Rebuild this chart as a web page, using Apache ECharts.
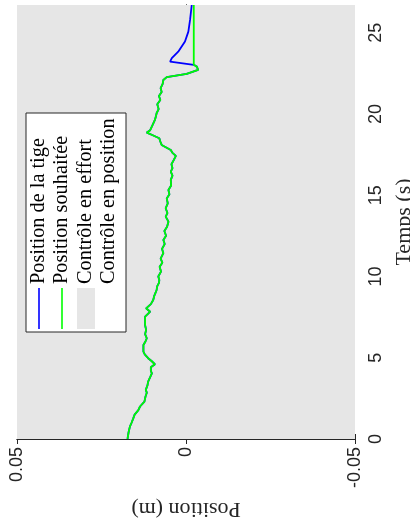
<!DOCTYPE html>
<html>
<head>
<meta charset="utf-8">
<script src="https://cdn.jsdelivr.net/npm/echarts@6/dist/echarts.min.js"></script>
<style>html,body{margin:0;padding:0;background:#fff;}#c{width:410px;height:526px;}</style>
</head>
<body>
<div id="c"></div>
<script>
// Time samples (s) and desired position (m) — "Position souhaitée"
const timeS = [0,0.4,0.76,1.0,1.27,1.5,1.78,2.0,2.3,2.6,2.85,3.02,3.3,3.53,3.8,4.04,4.2,4.41,4.6,4.8,4.97,5.2,5.37,5.6,5.78,6.0,6.2,6.45,6.71,7.0,7.3,7.53,7.83,8.04,8.3,8.55,8.8,9.0,9.17,9.4,9.6,9.78,10.0,10.3,10.6,10.85,11.1,11.43,11.7,12.0,12.25,12.5,12.8,13.06,13.37,13.68,13.9,14.2,14.5,14.8,15.05,15.32,15.6,15.94,16.2,16.45,16.66,16.9,17.17,17.42,17.6,17.78,18.09,18.3,18.5,18.7,18.85,19.0,19.12,19.35,19.63,19.85,20.04,20.3,20.6,20.86,21.1,21.35,21.58,21.85,22.09,22.26,22.46,22.71,22.91,23.02,26.7];
const desiredPos = [0.0173,0.0170,0.0166,0.0161,0.0156,0.0152,0.0141,0.0136,0.0123,0.0120,0.0116,0.0119,0.0114,0.0112,0.0106,0.0101,0.0104,0.0104,0.0092,0.0102,0.0112,0.0122,0.0126,0.0126,0.0126,0.0120,0.0116,0.0121,0.0118,0.0121,0.0121,0.0121,0.0106,0.0118,0.0104,0.0097,0.0094,0.0090,0.0087,0.0085,0.0080,0.0079,0.0082,0.0074,0.0078,0.0070,0.0075,0.0067,0.0071,0.0063,0.0067,0.0059,0.0064,0.0056,0.0052,0.0060,0.0055,0.0060,0.0054,0.0057,0.0049,0.0052,0.0044,0.0045,0.0040,0.0045,0.0040,0.0043,0.0036,0.0030,0.0040,0.0045,0.0072,0.0076,0.0079,0.0100,0.0116,0.0106,0.0102,0.0098,0.0092,0.0089,0.0087,0.0081,0.0085,0.0076,0.0080,0.0072,0.0075,0.0069,0.0067,0.0057,-0.0002,-0.0036,-0.0032,-0.0023,-0.0023];
// Rod position ("Position de la tige") follows desired until switchTime, then this tail
const switchTime = 23.02;
const rodTailTime = [23.22,23.43,23.83,24.45,25.06,25.78,26.7];
const rodTailPos = [0.0047,0.0042,0.0023,0.0003,-0.0007,-0.0012,-0.0017];
// Shaded region "Contrôle en effort"
const effortStart = 0, effortEnd = 26.7;
const timeTicks = [0,5,10,15,20,25];
const posTicks = [0.05,0,-0.05];

const desiredData = timeS.map((t,i)=>[desiredPos[i], t]);
const rodData = timeS.filter(t=>t<=switchTime).map((t,i)=>[desiredPos[i], t])
  .concat(rodTailTime.map((t,i)=>[rodTailPos[i], t]));

const axisCol = '#262626';
const chart = echarts.init(document.getElementById('c'), null, {renderer:'canvas'});
const serif = '"Liberation Serif", "DejaVu Serif", serif';
const sans = '"Liberation Sans", Arial, sans-serif';

const lx = [39, 62, 86, 109];
const legendTexts = ['Position de la tige','Position souhaitée','Contrôle en effort','Contrôle en position'];

chart.setOption({
  animation:false,
  backgroundColor:'#fff',
  grid:{left:17, top:5, width:338, height:434, show:false, containLabel:false, outerBoundsMode:'none'},
  xAxis:[{
    type:'value', min:-0.05, max:0.05, interval:0.05, inverse:true, position:'bottom',
    axisLine:{show:true, lineStyle:{color:axisCol, width:1}},
    axisTick:{show:true, inside:true, length:5, lineStyle:{color:axisCol}},
    axisLabel:{rotate:90, margin:8, fontSize:18, color:axisCol, fontFamily:sans, hideOverlap:false,
      formatter:v=>posTicks.some(p=>Math.abs(p-v)<1e-9)?String(v):''},
    splitLine:{show:false},
    name:'Position (m)', nameLocation:'middle', nameGap:59, nameRotate:180,
    nameTextStyle:{fontFamily:serif, fontSize:22, color:axisCol}
  },{
    type:'value', min:-0.05, max:0.05, interval:0.05, inverse:true, position:'top',
    axisLine:{show:true, lineStyle:{color:axisCol, width:1}},
    axisTick:{show:true, inside:true, length:5, lineStyle:{color:axisCol}},
    axisLabel:{show:false}, splitLine:{show:false}
  }],
  yAxis:[{
    type:'value', min:0, max:26.7, interval:5, position:'right',
    axisLine:{show:true, lineStyle:{color:axisCol, width:1}},
    axisTick:{show:true, inside:true, length:5, lineStyle:{color:axisCol}},
    axisLabel:{rotate:90, margin:12, fontSize:18, color:axisCol, fontFamily:sans, hideOverlap:false,
      formatter:v=>timeTicks.indexOf(v)>=0?String(v):''},
    splitLine:{show:false},
    name:'Temps (s)', nameLocation:'middle', nameGap:33, nameRotate:90,
    nameTextStyle:{fontFamily:serif, fontSize:22, color:axisCol}
  },{
    type:'value', min:0, max:26.7, interval:5, position:'left',
    axisLine:{show:true, lineStyle:{color:axisCol, width:1}},
    axisTick:{show:true, inside:true, length:5, lineStyle:{color:axisCol}},
    axisLabel:{show:false}, splitLine:{show:false}
  }],
  series:[{
    name:'Position de la tige', type:'line', xAxisIndex:0, yAxisIndex:0,
    data:rodData, showSymbol:false, symbol:'none',
    lineStyle:{color:'#0000ff', width:1.8}, z:3,
    markArea:{silent:true, itemStyle:{color:'#e6e6e6'}, z:1,
      data:[[{yAxis:effortStart},{yAxis:effortEnd}]]}
  },{
    name:'Position souhaitée', type:'line', xAxisIndex:0, yAxisIndex:0,
    data:desiredData, showSymbol:false, symbol:'none',
    lineStyle:{color:'#00ff00', width:1.8}, z:4
  }],
  graphic:[
    {type:'rect', shape:{x:26, y:113, width:100, height:219},
     style:{fill:'#fff', stroke:axisCol, lineWidth:1}, z:10},
    {type:'line', shape:{x1:lx[0], y1:288, x2:lx[0], y2:329}, style:{stroke:'#0000ff', lineWidth:1.6}, z:11},
    {type:'line', shape:{x1:lx[1], y1:288, x2:lx[1], y2:329}, style:{stroke:'#00ff00', lineWidth:1.6}, z:11},
    {type:'rect', shape:{x:77, y:288, width:18, height:41}, style:{fill:'#e6e6e6'}, z:11}
  ].concat(legendTexts.map((s,i)=>({
    type:'text', x:lx[i], y:284, rotation:Math.PI/2, z:12,
    style:{text:s, fontFamily:serif, fontSize:20.3, fill:'#000', align:'left', verticalAlign:'middle'}
  })))
});
</script>
</body>
</html>
